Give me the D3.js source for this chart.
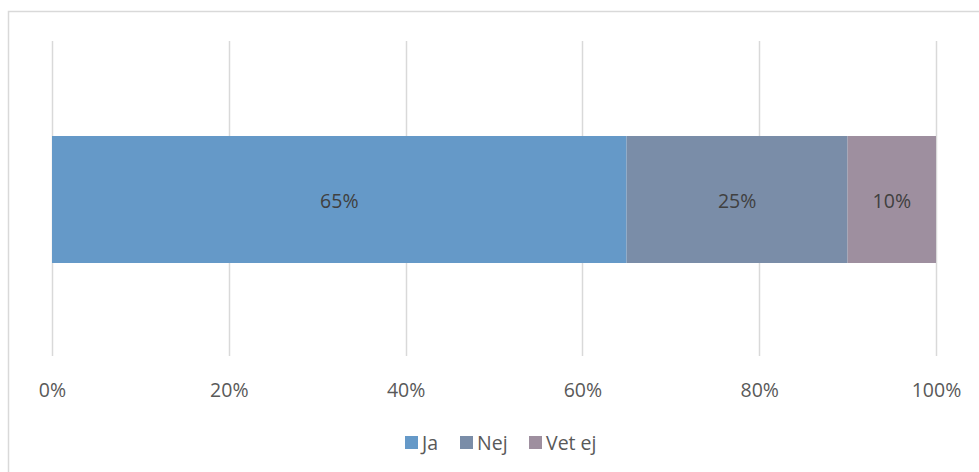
<!DOCTYPE html>
<html><head><meta charset="utf-8">
<script src="https://cdn.jsdelivr.net/npm/d3@7"></script>
<style>html,body{margin:0;padding:0;background:#fff;}svg{display:block;font-family:"Open Sans",sans-serif;}</style>
</head><body>
<svg id="c" width="979" height="472"></svg>
<script>
const categories = ["Fråga"];
const seriesNames = ["Ja", "Nej", "Vet ej"];
const seriesValues = [0.65, 0.25, 0.10];
const seriesColors = ["#6599C8", "#7A8DA8", "#9E8F9F"];
const tickValues = [0, 0.2, 0.4, 0.6, 0.8, 1.0];
const tickLabels = ["0%", "20%", "40%", "60%", "80%", "100%"];

const svg = d3.select("#c");
// outer border
svg.append("rect").attr("x", 8.5).attr("y", 11.5).attr("width", 990).attr("height", 490)
  .attr("fill", "none").attr("stroke", "#D9D9D9").attr("stroke-width", 1.5);

const x = d3.scaleLinear().domain([0, 1]).range([52, 936]);

// gridlines
svg.append("g").selectAll("line").data(tickValues).join("line")
  .attr("x1", d => Math.round(x(d)) + 0.5).attr("x2", d => Math.round(x(d)) + 0.5)
  .attr("y1", 41).attr("y2", 356)
  .attr("stroke", "#D9D9D9").attr("stroke-width", 1.5);

// stacked data
let acc = 0;
const stacked = seriesValues.map((v, i) => { const s = { name: seriesNames[i], v, x0: acc, x1: acc + v, color: seriesColors[i] }; acc += v; return s; });

const bandY = 136, bandH = 127;
const g = svg.append("g");
g.selectAll("rect").data(stacked).join("rect")
  .attr("x", d => x(d.x0)).attr("width", d => x(d.x1) - x(d.x0))
  .attr("y", bandY).attr("height", bandH)
  .attr("fill", d => d.color);
g.selectAll("text").data(stacked).join("text")
  .attr("x", d => (x(d.x0) + x(d.x1)) / 2).attr("y", bandY + bandH / 2 + 1)
  .attr("text-anchor", "middle").attr("dominant-baseline", "central")
  .attr("fill", "#404040").attr("font-size", 19.5)
  .text(d => Math.round(d.v * 100) + "%");

// axis labels
const axis = d3.axisBottom(x).tickValues(tickValues).tickFormat((d, i) => tickLabels[i]).tickSize(0).tickPadding(0);
const ag = svg.append("g").attr("transform", "translate(0,390)").call(axis);
ag.select(".domain").remove();
ag.selectAll("text").attr("fill", "#595959").attr("font-size", 19.5).attr("font-family", "Open Sans, sans-serif").attr("dy", "0.35em").attr("y", 0);

// legend
const legendX = [405, 460, 529];
const lg = svg.append("g");
stacked.forEach((d, i) => {
  lg.append("rect").attr("x", legendX[i]).attr("y", 436).attr("width", 13).attr("height", 13).attr("fill", d.color);
  lg.append("text").attr("x", legendX[i] + 17).attr("y", 442).attr("dominant-baseline", "central")
    .attr("fill", "#595959").attr("font-size", 19.5).text(d.name);
});
</script>
</body></html>
